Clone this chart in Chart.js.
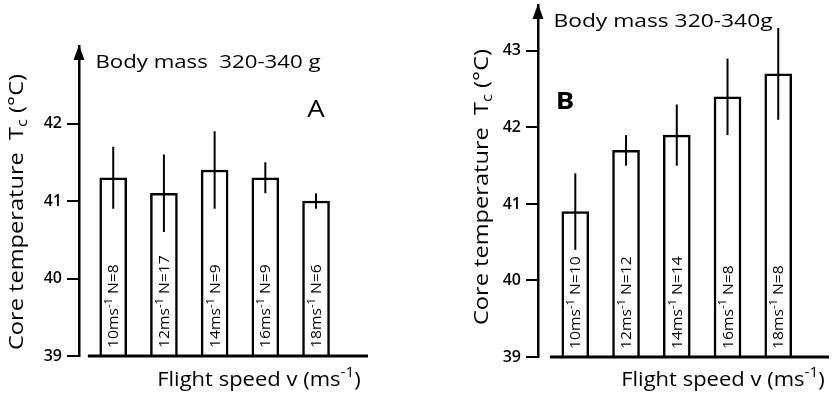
<!DOCTYPE html>
<html>
<head>
<meta charset="utf-8">
<script src="https://cdn.jsdelivr.net/npm/chart.js@4.4.0/dist/chart.umd.min.js"></script>
<style>
  html, body { margin: 0; padding: 0; background: #fff; }
  #wrap { width: 836px; height: 398px; display: flex; }
  canvas { display: block; }
</style>
</head>
<body>
<div id="wrap">
  <canvas id="chartA" width="418" height="398"></canvas>
  <canvas id="chartB" width="418" height="398"></canvas>
</div>
<script>
// flight speed categories (m/s)
const speeds = [10, 12, 14, 16, 18];
const yTicks = [39, 40, 41, 42, 43];

// panel A
const meanA = [41.3, 41.1, 41.4, 41.3, 41.0];
const sdA = [0.4, 0.5, 0.5, 0.2, 0.1];
const nA = [8, 17, 9, 9, 6];

// panel B
const meanB = [40.9, 41.7, 41.9, 42.4, 42.7];
const sdB = [0.5, 0.2, 0.4, 0.5, 0.6];
const nB = [10, 12, 14, 8, 8];

const FONT = '"Open Sans", "DejaVu Sans", sans-serif';

// draw text made of parts: [text, kind]  kind 0 normal, 1 superscript, -1 subscript
function drawRich(ctx, parts, x, y, size, opt = {}) {
    const weight = opt.weight || '500';
    const stretch = opt.stretch || 1;
    const fontFor = k => `${weight} ${k ? Math.round(size * 0.68) : size}px ${FONT}`;
    let total = 0;
    parts.forEach(([t, k]) => { ctx.font = fontFor(k); total += ctx.measureText(t).width; });
    ctx.save();
    ctx.translate(x, y);
    if (opt.rotate) ctx.rotate(opt.rotate);
    ctx.scale(stretch, 1);
    let cx = opt.align === 'left' ? 0 : -total / 2;
    ctx.textAlign = 'left';
    ctx.textBaseline = 'middle';
    ctx.fillStyle = '#000';
    parts.forEach(([t, k]) => {
        ctx.font = fontFor(k);
        const dy = k === 1 ? -size * 0.35 : (k === -1 ? size * 0.3 : 0);
        ctx.fillText(t, cx, dy);
        cx += ctx.measureText(t).width;
    });
    ctx.restore();
}

const figurePlugin = {
    id: 'figure',
    afterDatasetsDraw(chart, args, opts) {
        const ctx = chart.ctx;
        const xs = chart.scales.x;
        const ys = chart.scales.y;
        ctx.save();
        ctx.strokeStyle = '#000';
        ctx.fillStyle = '#000';

        // x baseline (starts a little right of the y axis)
        ctx.lineWidth = 3;
        ctx.beginPath();
        ctx.moveTo(xs.getPixelForValue(9), ys.bottom);
        ctx.lineTo(xs.right, ys.bottom);
        ctx.stroke();

        // error bars
        ctx.lineWidth = 2;
        opts.means.forEach((m, i) => {
            const px = xs.getPixelForValue(speeds[i]);
            ctx.beginPath();
            ctx.moveTo(px, ys.getPixelForValue(m + opts.sd[i]));
            ctx.lineTo(px, ys.getPixelForValue(m - opts.sd[i]));
            ctx.stroke();
        });

        // arrow head on the y axis
        const ax = xs.left;
        const ay = ys.top - 1;
        ctx.beginPath();
        ctx.moveTo(ax, ay);
        ctx.lineTo(ax - 5.5, ay + 15);
        ctx.lineTo(ax + 5.5, ay + 15);
        ctx.closePath();
        ctx.fill();

        // labels inside the bars
        opts.n.forEach((n, i) => {
            const px = xs.getPixelForValue(speeds[i]);
            drawRich(ctx, [[speeds[i] + 'ms', 0], ['-1', 1], [' N=' + n, 0]],
                px + 1, ys.bottom - 8, 14, { rotate: -Math.PI / 2, align: 'left', stretch: 1.12 });
        });

        // titles and annotations
        const t = opts.text;
        drawRich(ctx, [['Body mass ' + opts.mass, 0]], t.mass[0], t.mass[1], 19, { stretch: opts.massStretch });
        drawRich(ctx, [[opts.letter, 0]], t.letter[0], t.letter[1], 24, { weight: opts.letterWeight, stretch: 1.15 });
        drawRich(ctx, [['Core temperature  T', 0], ['c', -1], [' (\u00b0C)', 0]],
            t.ytitle[0], t.ytitle[1], 20, { rotate: -Math.PI / 2, stretch: 1.18 });
        drawRich(ctx, [['Flight speed v (ms', 0], ['-1', 1], [')', 0]],
            t.xtitle[0], t.xtitle[1], 20, { stretch: 1.1 });
        ctx.restore();
    }
};

function makePanel(id, means, sd, n, cfg) {
    return new Chart(document.getElementById(id), {
        type: 'bar',
        data: {
            datasets: [{
                data: speeds.map((s, i) => ({ x: s, y: means[i] })),
                backgroundColor: '#fff',
                borderColor: '#000',
                borderWidth: 2.5,
                barThickness: 27
            }]
        },
        options: {
            responsive: false,
            animation: false,
            layout: { padding: cfg.padding },
            plugins: {
                legend: { display: false },
                tooltip: { enabled: false },
                figure: {
                    means: means, sd: sd, n: n, letter: cfg.letter, letterWeight: cfg.letterWeight,
                    mass: cfg.mass, massStretch: cfg.massStretch, text: cfg.text
                }
            },
            scales: {
                x: { type: 'linear', offset: false, min: cfg.xMin, max: cfg.xMax, display: false },
                y: {
                    min: 39,
                    max: cfg.yMax,
                    afterFit(s) {
                        s.width = cfg.axisWidth;
                        s.paddingTop = 0;
                        s.paddingBottom = 0;
                    },
                    afterBuildTicks(s) { s.ticks = yTicks.filter(v => v <= cfg.lastTick).map(v => ({ value: v })); },
                    ticks: {
                        color: '#000',
                        padding: 5,
                        font: { family: FONT, size: 16, weight: '600' }
                    },
                    grid: { drawOnChartArea: false, drawTicks: true, tickLength: 12, color: '#000', lineWidth: 2 },
                    border: { display: true, color: '#000', width: 2.5 }
                }
            }
        },
        plugins: [figurePlugin]
    });
}

makePanel('chartA', meanA, sdA, nA, {
    padding: { top: 46, right: 50, bottom: 42, left: 0 },
    axisWidth: 79, xMin: 8.65, xMax: 20.05, yMax: 43, lastTick: 42,
    letter: 'A', letterWeight: '500', mass: ' 320-340 g', massStretch: 1.17,
    text: { mass: [208, 63], letter: [316, 110], ytitle: [17, 212], xtitle: [259, 380] }
});

makePanel('chartB', meanB, sdB, nB, {
    padding: { top: 5, right: 7, bottom: 41, left: 0 },
    axisWidth: 120, xMin: 8.53, xMax: 20, yMax: 43.6, lastTick: 43,
    letter: 'B', letterWeight: 'bold', mass: '320-340g', massStretch: 1.2,
    text: { mass: [245, 22], letter: [147, 102], ytitle: [64, 187], xtitle: [305, 380] }
});
</script>
</body>
</html>
